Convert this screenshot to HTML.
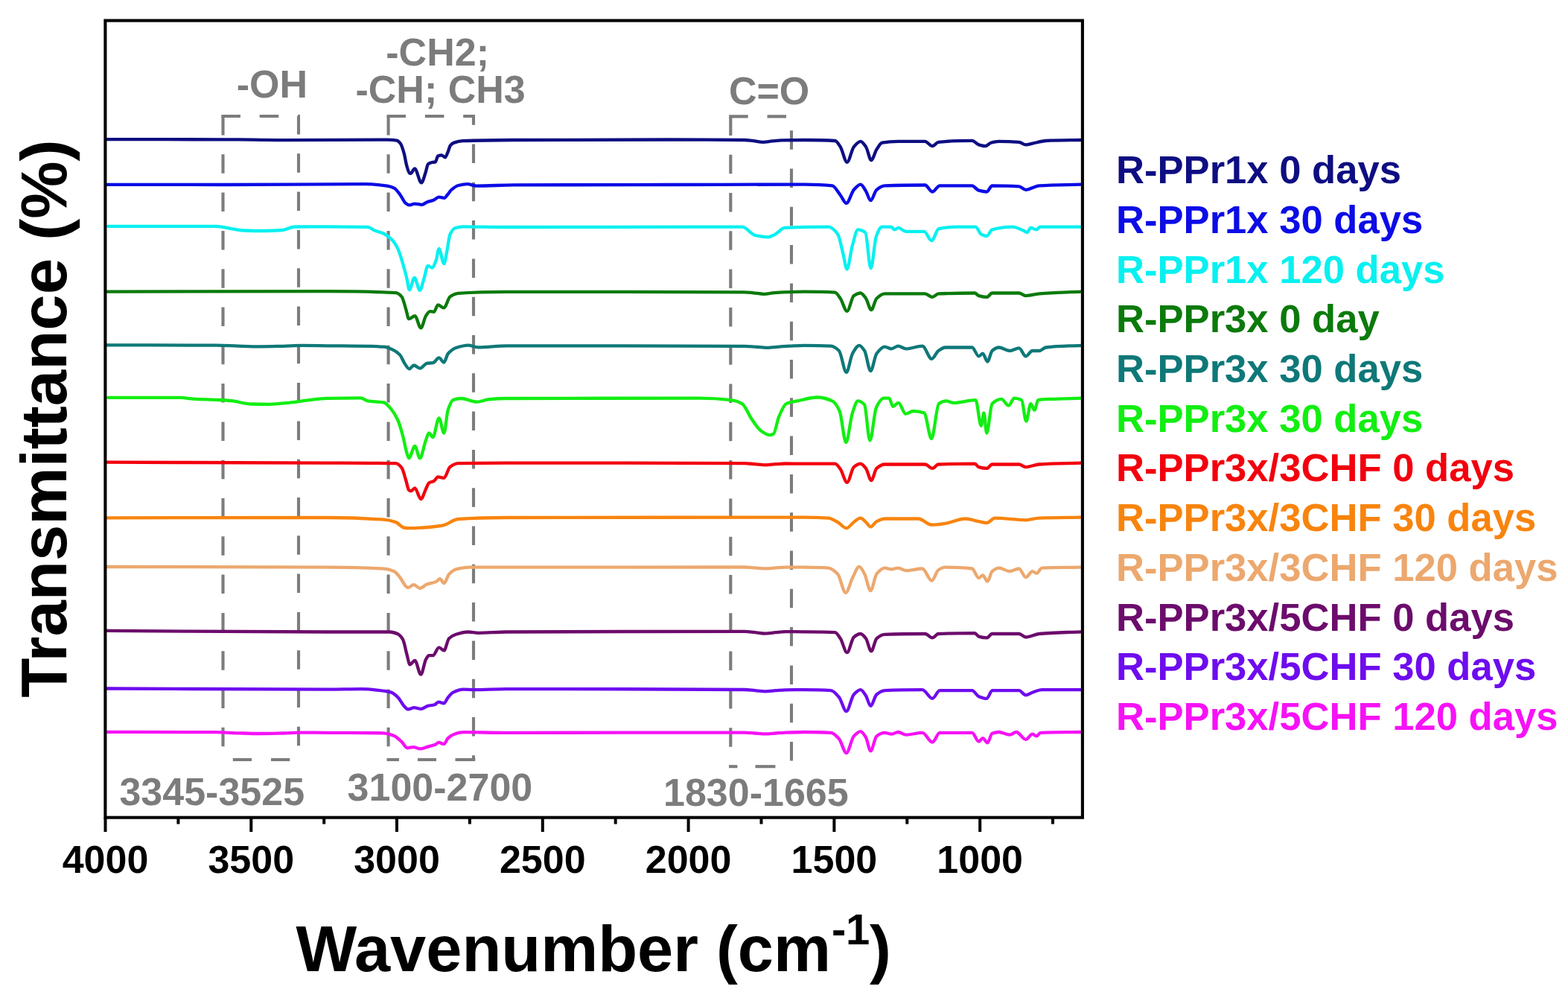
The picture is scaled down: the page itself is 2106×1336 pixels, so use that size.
<!DOCTYPE html><html><head><meta charset="utf-8"><title>FTIR spectra</title><style>
html,body{margin:0;padding:0;background:#fff;width:2106px;height:1336px;overflow:hidden}
svg{display:block}text{font-family:"Liberation Sans",Arial,sans-serif;font-weight:bold}
</style></head><body>
<svg width="2106" height="1336" viewBox="0 0 2106 1336">
<rect x="0" y="0" width="2106" height="1336" fill="#fff"/>
<path d="M297.4,156.0 H401.0 V1020.0" fill="none" stroke="#7c7c7c" stroke-width="4.1" stroke-dasharray="25.5 25.8"/><path d="M299.5,156.0 V1020.0" fill="none" stroke="#7c7c7c" stroke-width="4.1" stroke-dasharray="25.5 25.8"/><path d="M312.8,1020.0 H338.0" fill="none" stroke="#7c7c7c" stroke-width="4.1"/><path d="M364.0,1020.0 H389.3" fill="none" stroke="#7c7c7c" stroke-width="4.1"/>
<path d="M519.6,156.0 H636.0 V1020.0" fill="none" stroke="#7c7c7c" stroke-width="4.1" stroke-dasharray="25.5 25.8"/><path d="M521.6,156.0 V1020.0" fill="none" stroke="#7c7c7c" stroke-width="4.1" stroke-dasharray="25.5 25.8"/><path d="M519.5,1020.0 H536.0" fill="none" stroke="#7c7c7c" stroke-width="4.1"/><path d="M561.0,1020.0 H586.0" fill="none" stroke="#7c7c7c" stroke-width="4.1"/><path d="M611.5,1020.0 H638.3" fill="none" stroke="#7c7c7c" stroke-width="4.1"/>
<path d="M979.2,156.4 H1063.0 V1029.2" fill="none" stroke="#7c7c7c" stroke-width="4.1" stroke-dasharray="25.5 25.8"/><path d="M981.3,156.4 V1029.2" fill="none" stroke="#7c7c7c" stroke-width="4.1" stroke-dasharray="25.5 25.8"/><path d="M979.0,1029.2 H990.4" fill="none" stroke="#7c7c7c" stroke-width="4.1"/><path d="M1014.5,1029.2 H1041.4" fill="none" stroke="#7c7c7c" stroke-width="4.1"/>
<path d="M143.0,187.1 C195.3,187.2 247.7,187.2 300.0,187.3 C313.3,187.3 326.7,187.5 340.0,187.6 C353.3,187.7 366.7,188.1 380.0,188.1 C426.7,188.1 473.3,187.6 520.0,187.6 C524.3,187.6 528.7,187.9 533.0,188.6 C534.6,188.9 536.3,190.7 537.9,192.8 C539.5,194.9 541.1,200.3 542.7,205.9 C543.9,210.1 545.1,218.6 546.3,222.7 C547.5,226.8 548.7,231.6 549.9,232.3 C550.4,232.6 551.0,232.9 551.5,232.9 C553.3,232.9 555.2,226.3 557.0,226.3 C560.0,226.3 563.0,245.4 566.0,245.4 C567.8,245.4 569.6,237.4 571.4,232.3 C572.6,228.9 573.8,221.2 575.0,220.3 C577.0,218.8 579.0,218.2 581.0,217.9 C582.2,217.7 583.4,217.8 584.6,217.6 C585.8,217.4 587.0,210.1 588.2,209.5 C589.8,208.8 591.4,208.3 593.0,208.3 C594.6,208.3 596.2,211.3 597.8,211.3 C599.0,211.3 600.2,207.3 601.4,204.7 C602.6,202.1 603.8,196.5 605.0,195.1 C606.6,193.2 608.2,192.1 609.8,191.6 C613.8,190.2 617.7,189.4 621.7,189.2 C644.5,188.3 667.2,188.1 690.0,188.0 C760.0,187.7 830.0,187.5 900.0,187.5 C933.3,187.5 966.7,187.6 1000.0,188.0 C1004.0,188.0 1008.0,188.8 1012.0,189.2 C1016.3,189.7 1020.7,190.8 1025.0,190.8 C1029.0,190.8 1033.0,189.8 1037.0,189.4 C1041.3,189.0 1045.7,188.4 1050.0,188.3 C1060.0,188.1 1070.0,188.0 1080.0,188.0 C1093.8,188.0 1107.7,188.2 1121.5,189.0 C1123.9,189.1 1126.3,193.5 1128.7,197.1 C1131.7,201.6 1134.7,217.8 1137.7,217.8 C1140.7,217.8 1143.8,200.7 1146.8,197.1 C1149.8,193.5 1152.8,189.8 1155.8,189.8 C1158.2,189.8 1160.6,193.6 1163.0,197.1 C1165.4,200.6 1167.8,215.1 1170.2,215.1 C1172.6,215.1 1175.0,204.4 1177.4,200.7 C1179.8,197.0 1182.3,192.2 1184.7,191.7 C1191.9,190.3 1199.1,189.8 1206.3,189.8 C1218.3,189.8 1230.4,189.8 1242.4,189.8 C1245.7,189.8 1249.0,196.2 1252.3,196.2 C1255.0,196.2 1257.7,191.1 1260.4,190.8 C1275.5,189.3 1290.5,188.9 1305.6,188.9 C1308.6,188.9 1311.6,193.5 1314.6,194.4 C1317.6,195.3 1320.6,196.2 1323.6,196.2 C1326.0,196.2 1328.4,192.4 1330.8,191.7 C1334.4,190.7 1338.0,189.8 1341.6,189.8 C1350.6,189.8 1359.7,190.1 1368.7,190.8 C1371.7,191.0 1374.7,194.4 1377.7,194.4 C1380.7,194.4 1383.7,193.2 1386.7,192.6 C1392.7,191.4 1398.8,189.3 1404.8,189.0 C1420.5,188.3 1436.3,188.3 1452.0,188.0" fill="none" stroke="#0e0e82" stroke-width="4.3" stroke-linejoin="round" stroke-linecap="round"/>
<path d="M143.0,247.8 C195.3,247.9 247.7,248.0 300.0,248.0 C363.3,248.0 426.7,247.2 490.0,247.2 C500.0,247.2 510.0,248.2 520.0,249.6 C523.2,250.1 526.3,251.0 529.5,252.6 C532.3,254.0 535.1,258.5 537.9,262.2 C540.3,265.3 542.6,271.3 545.0,273.0 C546.6,274.2 548.3,275.4 549.9,275.4 C552.3,275.4 554.6,273.6 557.0,273.6 C560.2,273.6 563.4,274.8 566.6,274.8 C569.0,274.8 571.4,272.1 573.8,271.2 C576.6,270.2 579.4,269.9 582.2,268.8 C584.6,267.9 587.0,264.6 589.4,264.6 C591.8,264.6 594.2,265.8 596.6,265.8 C598.2,265.8 599.8,262.8 601.4,261.0 C603.0,259.2 604.6,256.4 606.2,255.0 C609.4,252.2 612.5,249.8 615.7,249.0 C619.7,248.0 623.7,247.2 627.7,247.2 C631.7,247.2 635.7,249.6 639.7,249.6 C656.5,249.6 673.2,248.5 690.0,248.4 C760.0,248.1 830.0,248.1 900.0,248.0 C960.0,247.9 1020.0,247.6 1080.0,247.6 C1092.6,247.6 1105.3,248.0 1117.9,249.4 C1121.5,249.8 1125.1,257.5 1128.7,262.0 C1131.4,265.4 1134.1,272.9 1136.8,272.9 C1140.1,272.9 1143.5,258.5 1146.8,254.8 C1149.8,251.5 1152.8,247.6 1155.8,247.6 C1158.2,247.6 1160.6,252.9 1163.0,256.6 C1165.1,259.8 1167.2,269.2 1169.3,269.2 C1172.0,269.2 1174.7,257.0 1177.4,254.8 C1181.0,251.9 1184.7,249.5 1188.3,249.4 C1206.3,248.7 1224.4,248.5 1242.4,248.5 C1245.7,248.5 1249.0,257.5 1252.3,257.5 C1255.6,257.5 1258.9,249.4 1262.2,249.4 C1276.7,249.4 1291.1,249.4 1305.6,249.4 C1308.6,249.4 1311.6,254.9 1314.6,255.7 C1318.2,256.7 1321.8,257.5 1325.4,257.5 C1327.8,257.5 1330.2,249.4 1332.6,249.4 C1344.6,249.4 1356.7,249.6 1368.7,250.3 C1371.7,250.5 1374.7,254.8 1377.7,254.8 C1383.7,254.8 1389.8,249.8 1395.8,249.4 C1414.5,248.1 1433.3,248.2 1452.0,247.6" fill="none" stroke="#0c0ce6" stroke-width="4.3" stroke-linejoin="round" stroke-linecap="round"/>
<path d="M145.0,303.8 C193.5,303.8 241.9,303.8 290.4,303.9 C296.9,303.9 303.5,306.0 310.0,307.0 C316.0,307.9 322.0,309.3 328.0,309.5 C336.6,309.8 345.1,310.0 353.7,310.0 C362.1,310.0 370.6,309.6 379.0,309.0 C384.7,308.6 390.3,304.6 396.0,304.5 C410.7,304.3 425.3,304.3 440.0,304.3 C458.0,304.3 475.9,304.4 493.9,304.9 C497.0,305.0 500.2,308.3 503.3,309.6 C507.4,311.2 511.4,311.8 515.5,313.7 C519.1,315.4 522.7,318.1 526.3,321.8 C529.0,324.5 531.6,328.5 534.3,333.9 C536.6,338.5 538.8,346.6 541.1,354.1 C542.9,360.1 544.7,366.9 546.5,374.3 C547.6,378.8 548.7,389.2 549.8,389.2 C552.1,389.2 554.3,373.0 556.6,373.0 C559.1,373.0 561.5,389.8 564.0,389.8 C565.8,389.8 567.6,379.8 569.4,374.3 C571.2,368.8 573.0,356.8 574.8,356.8 C576.6,356.8 578.4,359.5 580.2,359.5 C582.0,359.5 583.8,354.5 585.6,350.0 C586.9,346.7 588.3,333.9 589.6,333.9 C591.8,333.9 594.1,354.1 596.3,354.1 C597.7,354.1 599.0,343.1 600.4,336.6 C601.7,330.2 603.1,317.9 604.4,315.0 C606.7,310.0 608.9,307.1 611.2,306.3 C614.8,305.1 618.4,304.3 622.0,304.3 C641.3,304.3 660.7,305.0 680.0,305.0 C766.7,305.0 853.3,304.7 940.0,304.7 C958.9,304.7 977.9,304.7 996.8,304.7 C1002.6,304.7 1008.3,314.4 1014.1,315.8 C1019.9,317.2 1025.6,318.3 1031.4,318.3 C1034.7,318.3 1037.9,316.2 1041.2,314.6 C1045.3,312.6 1049.5,306.1 1053.6,305.9 C1073.3,304.9 1093.1,304.7 1112.8,304.7 C1116.9,304.7 1121.1,308.9 1125.2,314.6 C1127.7,318.0 1130.1,332.2 1132.6,341.7 C1134.2,348.0 1135.9,361.5 1137.5,361.5 C1140.0,361.5 1142.4,337.9 1144.9,329.4 C1147.4,320.9 1149.8,308.4 1152.3,308.4 C1155.6,308.4 1158.9,309.7 1162.2,312.1 C1164.7,313.9 1167.1,360.2 1169.6,360.2 C1172.1,360.2 1174.5,323.4 1177.0,317.0 C1179.5,310.6 1181.9,304.7 1184.4,304.7 C1188.5,304.7 1192.7,304.7 1196.8,304.7 C1198.4,304.7 1200.1,308.4 1201.7,308.4 C1203.4,308.4 1205.0,305.9 1206.7,305.9 C1210.0,305.9 1213.2,310.9 1216.5,310.9 C1224.7,310.9 1233.0,310.9 1241.2,310.9 C1244.5,310.9 1247.8,323.2 1251.1,323.2 C1254.4,323.2 1257.7,307.9 1261.0,307.2 C1269.2,305.4 1277.5,304.7 1285.7,304.7 C1293.9,304.7 1302.2,304.7 1310.4,304.7 C1312.9,304.7 1315.3,313.3 1317.8,314.6 C1320.3,315.9 1322.7,317.0 1325.2,317.0 C1327.7,317.0 1330.1,309.1 1332.6,308.4 C1341.7,305.8 1350.7,304.7 1359.8,304.7 C1364.7,304.7 1369.7,307.5 1374.6,309.6 C1376.2,310.3 1377.9,312.1 1379.5,312.1 C1381.1,312.1 1382.8,305.9 1384.4,305.9 C1386.9,305.9 1389.4,308.4 1391.9,308.4 C1393.5,308.4 1395.2,304.7 1396.8,304.7 C1415.2,304.7 1433.6,304.7 1452.0,304.7" fill="none" stroke="#08f0f0" stroke-width="4.3" stroke-linejoin="round" stroke-linecap="round"/>
<path d="M143.0,391.6 C242.0,391.5 341.0,391.2 440.0,391.2 C470.5,391.2 501.1,391.5 531.6,393.2 C534.3,393.4 537.0,395.5 539.7,398.6 C541.5,400.7 543.3,409.2 545.1,414.8 C546.5,419.1 547.8,428.2 549.2,428.2 C551.9,428.2 554.5,424.2 557.2,424.2 C559.9,424.2 562.6,440.4 565.3,440.4 C567.5,440.4 569.8,427.6 572.0,424.2 C573.8,421.4 575.7,418.1 577.5,418.1 C579.3,418.1 581.1,418.8 582.9,418.8 C584.7,418.8 586.4,409.4 588.2,409.4 C590.9,409.4 593.6,413.4 596.3,413.4 C599.0,413.4 601.7,400.6 604.4,398.6 C608.0,396.0 611.6,394.2 615.2,393.9 C636.8,392.3 658.4,391.9 680.0,391.9 C786.7,391.9 893.3,391.9 1000.0,392.3 C1004.0,392.3 1008.0,392.9 1012.0,393.3 C1016.7,393.7 1021.3,394.8 1026.0,394.8 C1030.7,394.8 1035.3,393.6 1040.0,393.2 C1044.0,392.8 1048.0,392.4 1052.0,392.3 C1061.3,392.0 1070.7,391.7 1080.0,391.7 C1093.8,391.7 1107.7,391.8 1121.5,392.6 C1123.9,392.7 1126.3,397.3 1128.7,400.7 C1131.7,404.9 1134.7,417.8 1137.7,417.8 C1140.7,417.8 1143.8,399.2 1146.8,397.1 C1149.8,395.1 1152.8,393.5 1155.8,393.5 C1158.2,393.5 1160.6,397.4 1163.0,400.7 C1165.4,404.0 1167.8,416.0 1170.2,416.0 C1172.6,416.0 1175.0,403.0 1177.4,400.7 C1181.0,397.3 1184.7,394.4 1188.3,394.4 C1206.3,394.4 1224.4,394.4 1242.4,394.4 C1245.7,394.4 1249.0,398.9 1252.3,398.9 C1255.0,398.9 1257.7,394.5 1260.4,394.4 C1276.7,393.7 1292.9,393.5 1309.2,393.5 C1311.0,393.5 1312.8,396.6 1314.6,397.1 C1318.2,398.1 1321.8,398.9 1325.4,398.9 C1327.8,398.9 1330.2,393.5 1332.6,393.5 C1344.6,393.5 1356.7,393.5 1368.7,393.5 C1371.7,393.5 1374.7,397.1 1377.7,397.1 C1383.7,397.1 1389.8,394.9 1395.8,394.4 C1414.5,392.9 1433.3,392.6 1452.0,391.7" fill="none" stroke="#0b7a0b" stroke-width="4.3" stroke-linejoin="round" stroke-linecap="round"/>
<path d="M143.0,463.4 C192.0,463.5 241.0,463.4 290.0,463.6 C300.0,463.6 310.0,464.3 320.0,464.6 C330.0,464.9 340.0,465.3 350.0,465.3 C360.0,465.3 370.0,465.0 380.0,464.8 C388.3,464.6 396.7,463.9 405.0,463.9 C416.7,463.9 428.3,464.1 440.0,464.3 C465.2,464.6 490.3,464.5 515.5,465.6 C519.5,465.8 523.6,467.7 527.6,469.6 C530.7,471.0 533.9,473.1 537.0,476.4 C539.3,478.8 541.5,485.4 543.8,488.5 C545.8,491.3 547.8,495.3 549.8,495.3 C551.8,495.3 553.9,490.5 555.9,490.5 C558.6,490.5 561.3,494.6 564.0,494.6 C567.1,494.6 570.3,488.2 573.4,487.8 C576.1,487.4 578.8,487.6 581.5,487.2 C584.2,486.8 586.9,480.4 589.6,480.4 C591.8,480.4 594.1,486.5 596.3,486.5 C598.1,486.5 599.9,477.1 601.7,475.0 C605.3,470.8 608.9,468.2 612.5,467.0 C617.9,465.2 623.3,463.6 628.7,463.6 C633.2,463.6 637.7,466.3 642.2,466.3 C654.8,466.3 667.4,464.3 680.0,464.3 C786.7,464.3 893.3,464.3 1000.0,464.8 C1004.7,464.8 1009.3,465.3 1014.0,465.6 C1019.3,465.9 1024.7,466.8 1030.0,466.8 C1035.3,466.8 1040.7,466.0 1046.0,465.6 C1050.7,465.3 1055.3,464.8 1060.0,464.6 C1066.7,464.3 1073.3,463.8 1080.0,463.8 C1092.0,463.8 1104.1,464.0 1116.1,464.7 C1119.7,464.9 1123.3,467.5 1126.9,471.0 C1130.2,474.2 1133.5,499.9 1136.8,499.9 C1139.5,499.9 1142.3,479.5 1145.0,474.7 C1148.0,469.5 1151.0,463.8 1154.0,463.8 C1156.4,463.8 1158.8,467.3 1161.2,471.0 C1163.9,475.1 1166.6,498.1 1169.3,498.1 C1172.0,498.1 1174.7,478.3 1177.4,474.7 C1181.0,469.9 1184.7,465.6 1188.3,465.6 C1191.3,465.6 1194.3,468.3 1197.3,468.3 C1200.3,468.3 1203.3,464.7 1206.3,464.7 C1209.9,464.7 1213.5,468.3 1217.1,468.3 C1224.3,468.3 1231.6,464.7 1238.8,464.7 C1243.0,464.7 1247.2,481.9 1251.4,481.9 C1254.4,481.9 1257.4,473.1 1260.4,471.0 C1263.4,468.9 1266.5,466.5 1269.5,466.5 C1281.5,466.5 1293.6,466.5 1305.6,466.5 C1308.6,466.5 1311.6,478.3 1314.6,478.3 C1316.4,478.3 1318.2,474.7 1320.0,474.7 C1322.1,474.7 1324.2,485.5 1326.3,485.5 C1328.4,485.5 1330.5,472.8 1332.6,471.0 C1335.6,468.4 1338.6,466.5 1341.6,466.5 C1346.4,466.5 1351.3,471.0 1356.1,471.0 C1360.3,471.0 1364.5,467.4 1368.7,467.4 C1371.7,467.4 1374.7,478.3 1377.7,478.3 C1380.7,478.3 1383.7,471.0 1386.7,471.0 C1389.7,471.0 1392.8,471.0 1395.8,471.0 C1398.8,471.0 1401.8,466.9 1404.8,466.5 C1420.5,464.5 1436.3,464.7 1452.0,463.8" fill="none" stroke="#0f7878" stroke-width="4.3" stroke-linejoin="round" stroke-linecap="round"/>
<path d="M145.0,533.8 C177.5,533.8 210.1,533.8 242.6,533.9 C248.3,533.9 254.0,535.3 259.7,535.6 C271.1,536.3 282.4,536.4 293.8,537.0 C299.5,537.3 305.3,537.6 311.0,538.2 C319.5,539.0 328.1,542.3 336.6,542.5 C345.1,542.7 353.7,542.8 362.2,542.8 C370.8,542.8 379.3,541.6 387.9,540.8 C396.4,540.0 405.0,538.4 413.5,537.4 C422.0,536.4 430.6,535.0 439.1,534.8 C454.2,534.5 469.4,534.3 484.5,534.3 C487.6,534.3 490.8,537.9 493.9,538.4 C501.1,539.6 508.3,539.1 515.5,540.4 C519.1,541.1 522.7,546.1 526.3,550.5 C529.0,553.8 531.6,558.1 534.3,564.0 C536.6,569.0 538.8,577.2 541.1,585.5 C542.9,592.1 544.7,603.0 546.5,608.5 C547.4,611.2 548.3,615.2 549.2,615.2 C551.9,615.2 554.5,599.0 557.2,599.0 C559.5,599.0 561.7,615.2 564.0,615.2 C566.7,615.2 569.3,597.9 572.0,591.0 C573.4,587.5 574.7,581.5 576.1,581.5 C577.9,581.5 579.7,586.9 581.5,586.9 C584.2,586.9 586.9,561.3 589.6,561.3 C591.8,561.3 594.1,581.5 596.3,581.5 C598.1,581.5 599.9,555.9 601.7,550.5 C604.0,543.7 606.2,537.8 608.5,537.0 C612.1,535.7 615.6,535.0 619.2,535.0 C626.4,535.0 633.6,539.7 640.8,539.7 C645.7,539.7 650.7,536.9 655.6,536.4 C663.7,535.6 671.9,535.0 680.0,535.0 C766.7,534.7 853.3,534.7 940.0,534.7 C954.0,534.7 968.0,535.6 982.0,537.2 C986.9,537.8 991.9,539.3 996.8,542.1 C1000.9,544.4 1005.0,556.0 1009.1,561.9 C1013.2,567.8 1017.4,574.9 1021.5,577.9 C1025.6,580.9 1029.7,584.1 1033.8,584.1 C1035.5,584.1 1037.1,583.6 1038.8,582.8 C1041.3,581.7 1043.7,565.1 1046.2,559.4 C1049.5,551.9 1052.7,543.6 1056.0,542.1 C1061.0,539.8 1065.9,539.5 1070.9,538.4 C1079.9,536.5 1089.0,533.5 1098.0,533.5 C1104.6,533.5 1111.2,535.4 1117.8,538.4 C1121.1,539.9 1124.4,544.8 1127.7,552.0 C1130.6,558.2 1133.4,594.0 1136.3,594.0 C1139.2,594.0 1142.0,562.8 1144.9,554.4 C1147.4,547.2 1149.8,538.4 1152.3,538.4 C1155.2,538.4 1158.1,540.2 1161.0,543.3 C1163.5,545.9 1165.9,591.5 1168.4,591.5 C1171.3,591.5 1174.1,552.8 1177.0,547.0 C1180.3,540.3 1183.6,534.7 1186.9,534.7 C1189.4,534.7 1191.8,534.7 1194.3,534.7 C1196.0,534.7 1197.6,545.8 1199.3,545.8 C1201.8,545.8 1204.2,540.9 1206.7,540.9 C1210.0,540.9 1213.2,555.7 1216.5,555.7 C1219.8,555.7 1223.1,552.0 1226.4,552.0 C1231.3,552.0 1236.3,552.8 1241.2,554.4 C1244.5,555.5 1247.8,589.0 1251.1,589.0 C1254.4,589.0 1257.7,544.4 1261.0,542.1 C1264.3,539.8 1267.6,538.4 1270.9,538.4 C1274.2,538.4 1277.4,540.9 1280.7,540.9 C1290.6,540.9 1300.5,537.2 1310.4,537.2 C1312.9,537.2 1315.3,571.7 1317.8,571.7 C1319.0,571.7 1320.3,554.4 1321.5,554.4 C1322.7,554.4 1324.0,581.6 1325.2,581.6 C1327.7,581.6 1330.1,544.5 1332.6,542.1 C1336.7,538.0 1340.9,535.9 1345.0,535.9 C1348.3,535.9 1351.5,544.6 1354.8,544.6 C1357.3,544.6 1359.7,534.7 1362.2,534.7 C1365.5,534.7 1368.8,535.5 1372.1,537.2 C1374.2,538.3 1376.2,565.6 1378.3,565.6 C1380.3,565.6 1382.4,542.1 1384.4,542.1 C1386.1,542.1 1387.7,550.7 1389.4,550.7 C1391.0,550.7 1392.7,537.5 1394.3,537.2 C1399.2,536.2 1404.2,536.1 1409.1,535.9 C1423.4,535.2 1437.7,535.1 1452.0,534.7" fill="none" stroke="#12ee12" stroke-width="4.3" stroke-linejoin="round" stroke-linecap="round"/>
<path d="M143.0,620.7 C242.0,621.0 341.0,621.2 440.0,621.6 C470.5,621.7 501.1,621.7 531.6,622.2 C534.3,622.2 537.0,624.9 539.7,628.3 C541.5,630.6 543.3,638.8 545.1,644.5 C546.5,648.8 547.8,656.9 549.2,658.0 C550.1,658.7 551.0,659.3 551.9,659.3 C553.7,659.3 555.4,655.3 557.2,655.3 C559.9,655.3 562.6,670.1 565.3,670.1 C567.5,670.1 569.8,661.1 572.0,656.6 C573.4,653.9 574.7,649.5 576.1,648.5 C578.4,646.9 580.6,647.1 582.9,645.8 C584.7,644.8 586.4,640.4 588.2,640.4 C590.9,640.4 593.6,641.8 596.3,641.8 C599.0,641.8 601.7,629.0 604.4,627.0 C608.0,624.3 611.6,622.3 615.2,622.2 C636.8,621.7 658.4,621.6 680.0,621.6 C786.7,621.6 893.3,621.7 1000.0,622.2 C1004.7,622.2 1009.3,622.9 1014.0,623.2 C1018.7,623.5 1023.3,624.3 1028.0,624.3 C1032.7,624.3 1037.3,623.5 1042.0,623.2 C1046.3,622.9 1050.7,622.5 1055.0,622.5 C1063.3,622.5 1071.7,622.6 1080.0,622.6 C1093.8,622.6 1107.7,622.6 1121.5,622.6 C1123.9,622.6 1126.3,626.6 1128.7,629.8 C1131.7,633.8 1134.7,647.8 1137.7,647.8 C1140.7,647.8 1143.8,629.6 1146.8,627.1 C1149.8,624.6 1152.8,622.6 1155.8,622.6 C1158.2,622.6 1160.6,625.9 1163.0,628.9 C1165.4,631.9 1167.8,645.1 1170.2,645.1 C1172.6,645.1 1175.0,630.9 1177.4,628.9 C1181.0,625.8 1184.7,623.5 1188.3,623.5 C1206.3,623.5 1224.4,623.5 1242.4,623.5 C1245.7,623.5 1249.0,628.9 1252.3,628.9 C1255.0,628.9 1257.7,623.6 1260.4,623.5 C1276.7,622.7 1292.9,622.6 1309.2,622.6 C1311.0,622.6 1312.8,626.6 1314.6,627.1 C1318.2,628.2 1321.8,628.9 1325.4,628.9 C1327.8,628.9 1330.2,623.5 1332.6,623.5 C1344.6,623.5 1356.7,623.5 1368.7,623.5 C1371.7,623.5 1374.7,627.1 1377.7,627.1 C1383.7,627.1 1389.8,623.9 1395.8,623.5 C1414.5,622.3 1433.3,622.3 1452.0,621.7" fill="none" stroke="#f2000e" stroke-width="4.3" stroke-linejoin="round" stroke-linecap="round"/>
<path d="M143.0,695.3 C242.0,695.2 341.0,695.0 440.0,695.0 C465.2,695.0 490.3,695.9 515.5,697.7 C520.9,698.1 526.2,699.3 531.6,701.1 C535.2,702.3 538.8,708.0 542.4,708.5 C545.1,708.9 547.8,709.2 550.5,709.2 C556.3,709.2 562.2,708.8 568.0,708.5 C574.7,708.1 581.5,707.4 588.2,706.5 C590.9,706.1 593.6,705.7 596.3,705.1 C602.6,703.6 608.9,697.4 615.2,697.0 C636.8,695.5 658.4,695.0 680.0,695.0 C813.3,694.7 946.7,694.7 1080.0,694.7 C1090.8,694.7 1101.7,695.0 1112.5,695.6 C1116.7,695.9 1120.9,698.8 1125.1,701.0 C1129.0,703.1 1132.9,709.2 1136.8,709.2 C1140.1,709.2 1143.5,703.3 1146.8,701.0 C1149.8,698.9 1152.8,695.6 1155.8,695.6 C1158.2,695.6 1160.6,698.9 1163.0,701.0 C1165.1,702.8 1167.2,707.4 1169.3,707.4 C1172.0,707.4 1174.7,701.4 1177.4,700.1 C1181.0,698.3 1184.7,696.5 1188.3,696.5 C1203.3,696.5 1218.4,696.5 1233.4,696.5 C1239.4,696.5 1245.4,704.7 1251.4,704.7 C1257.4,704.7 1263.5,703.7 1269.5,702.9 C1278.5,701.7 1287.5,696.5 1296.5,696.5 C1302.5,696.5 1308.6,699.0 1314.6,700.1 C1318.2,700.8 1321.8,702.0 1325.4,702.0 C1329.0,702.0 1332.6,695.6 1336.2,695.6 C1350.0,695.6 1363.9,698.3 1377.7,698.3 C1383.7,698.3 1389.8,695.8 1395.8,695.6 C1414.5,695.0 1433.3,695.0 1452.0,694.7" fill="none" stroke="#f8840e" stroke-width="4.3" stroke-linejoin="round" stroke-linecap="round"/>
<path d="M143.0,761.0 C242.0,761.2 341.0,761.2 440.0,761.6 C465.2,761.7 490.3,762.1 515.5,763.6 C520.0,763.9 524.5,765.1 529.0,767.0 C531.7,768.1 534.3,771.8 537.0,775.0 C539.7,778.2 542.4,784.7 545.1,787.2 C546.0,788.0 546.9,789.2 547.8,789.2 C550.5,789.2 553.2,785.1 555.9,785.1 C558.6,785.1 561.3,789.9 564.0,789.9 C567.1,789.9 570.3,785.7 573.4,784.5 C577.5,783.0 581.5,782.9 585.6,781.1 C587.4,780.3 589.1,777.1 590.9,777.1 C592.7,777.1 594.5,783.1 596.3,783.1 C598.6,783.1 600.8,773.4 603.1,771.0 C606.2,767.7 609.4,765.1 612.5,764.3 C618.8,762.7 625.1,761.6 631.4,761.6 C647.6,761.6 663.8,761.6 680.0,761.6 C786.7,761.6 893.3,761.5 1000.0,761.5 C1004.7,761.5 1009.3,762.1 1014.0,762.4 C1018.7,762.7 1023.3,763.3 1028.0,763.3 C1032.7,763.3 1037.3,762.7 1042.0,762.4 C1046.3,762.1 1050.7,761.6 1055.0,761.6 C1063.3,761.6 1071.7,761.6 1080.0,761.7 C1090.8,761.8 1101.7,761.9 1112.5,762.6 C1116.7,762.9 1120.9,766.4 1125.1,770.7 C1128.7,774.4 1132.3,795.9 1135.9,795.9 C1138.9,795.9 1142.0,781.9 1145.0,776.1 C1148.0,770.4 1151.0,760.8 1154.0,760.8 C1156.4,760.8 1158.8,766.3 1161.2,770.7 C1163.9,775.6 1166.6,793.2 1169.3,793.2 C1172.0,793.2 1174.7,774.0 1177.4,770.7 C1181.0,766.3 1184.7,762.6 1188.3,762.6 C1191.3,762.6 1194.3,764.4 1197.3,764.4 C1200.3,764.4 1203.3,762.6 1206.3,762.6 C1209.9,762.6 1213.5,766.2 1217.1,766.2 C1224.3,766.2 1231.6,763.5 1238.8,763.5 C1243.0,763.5 1247.2,779.7 1251.4,779.7 C1254.4,779.7 1257.4,767.2 1260.4,765.3 C1263.4,763.4 1266.5,761.7 1269.5,761.7 C1281.5,761.7 1293.6,762.1 1305.6,763.5 C1308.6,763.9 1311.6,776.1 1314.6,776.1 C1316.4,776.1 1318.2,772.5 1320.0,772.5 C1322.1,772.5 1324.2,780.6 1326.3,780.6 C1328.4,780.6 1330.5,768.9 1332.6,767.1 C1335.6,764.6 1338.6,762.6 1341.6,762.6 C1346.4,762.6 1351.3,767.1 1356.1,767.1 C1360.3,767.1 1364.5,763.5 1368.7,763.5 C1371.7,763.5 1374.7,775.2 1377.7,775.2 C1380.7,775.2 1383.7,767.1 1386.7,767.1 C1388.5,767.1 1390.4,769.8 1392.2,769.8 C1394.6,769.8 1397.0,762.7 1399.4,762.6 C1416.9,761.8 1434.5,762.0 1452.0,761.7" fill="none" stroke="#eca86e" stroke-width="4.3" stroke-linejoin="round" stroke-linecap="round"/>
<path d="M143.0,846.9 C242.0,847.4 341.0,848.5 440.0,848.5 C467.9,848.5 495.7,848.5 523.6,848.5 C527.2,848.5 530.7,849.7 534.3,851.2 C536.6,852.2 538.8,854.7 541.1,858.6 C542.9,861.7 544.7,872.4 546.5,878.8 C547.8,883.5 549.2,892.3 550.5,892.3 C552.7,892.3 555.0,886.9 557.2,886.9 C559.9,886.9 562.6,905.7 565.3,905.7 C567.5,905.7 569.8,889.5 572.0,885.5 C573.4,883.1 574.7,880.1 576.1,880.1 C577.9,880.1 579.7,880.1 581.5,880.1 C584.2,880.1 586.9,869.4 589.6,869.4 C591.8,869.4 594.1,873.4 596.3,873.4 C598.6,873.4 600.8,859.4 603.1,857.2 C606.2,854.2 609.4,852.8 612.5,851.8 C617.9,850.1 623.3,848.5 628.7,848.5 C633.2,848.5 637.7,849.8 642.2,849.8 C654.8,849.8 667.4,848.6 680.0,848.5 C786.7,848.0 893.3,847.9 1000.0,847.9 C1004.7,847.9 1009.3,848.7 1014.0,849.1 C1018.7,849.5 1023.3,850.6 1028.0,850.6 C1032.7,850.6 1037.3,849.6 1042.0,849.2 C1046.3,848.8 1050.7,848.2 1055.0,848.2 C1063.3,848.2 1071.7,848.2 1080.0,848.3 C1093.8,848.4 1107.7,848.4 1121.5,849.2 C1123.9,849.3 1126.3,853.8 1128.7,857.3 C1131.7,861.6 1134.7,876.2 1137.7,876.2 C1140.7,876.2 1143.8,858.0 1146.8,855.5 C1149.8,853.0 1152.8,851.0 1155.8,851.0 C1158.2,851.0 1160.6,854.2 1163.0,857.3 C1165.4,860.4 1167.8,874.4 1170.2,874.4 C1172.6,874.4 1175.0,859.4 1177.4,857.3 C1181.0,854.2 1184.7,852.0 1188.3,851.9 C1206.3,851.2 1224.4,851.0 1242.4,851.0 C1245.7,851.0 1249.0,856.4 1252.3,856.4 C1255.0,856.4 1257.7,851.1 1260.4,851.0 C1276.7,850.2 1292.9,850.1 1309.2,850.1 C1311.0,850.1 1312.8,854.1 1314.6,854.6 C1318.2,855.7 1321.8,856.4 1325.4,856.4 C1327.8,856.4 1330.2,851.0 1332.6,851.0 C1344.6,851.0 1356.7,851.0 1368.7,851.0 C1371.7,851.0 1374.7,855.5 1377.7,855.5 C1383.7,855.5 1389.8,851.5 1395.8,851.0 C1414.5,849.3 1433.3,849.2 1452.0,848.3" fill="none" stroke="#6c0c6c" stroke-width="4.3" stroke-linejoin="round" stroke-linecap="round"/>
<path d="M143.0,924.5 C242.0,924.9 341.0,925.6 440.0,925.6 C455.2,925.6 470.4,925.1 485.6,925.1 C493.2,925.1 500.8,926.0 508.4,926.8 C514.1,927.4 519.8,928.0 525.5,929.6 C528.5,930.5 531.6,933.5 534.6,936.5 C537.3,939.2 539.9,945.2 542.6,947.9 C544.5,949.8 546.4,952.4 548.3,952.4 C550.9,952.4 553.6,950.1 556.2,950.1 C559.3,950.1 562.3,951.9 565.4,951.9 C568.4,951.9 571.5,948.7 574.5,947.9 C577.5,947.1 580.6,947.1 583.6,946.2 C585.5,945.6 587.4,942.7 589.3,942.7 C591.6,942.7 593.8,944.4 596.1,944.4 C598.0,944.4 599.9,938.7 601.8,936.5 C604.1,933.8 606.4,930.7 608.7,929.6 C613.2,927.4 617.8,925.6 622.3,925.6 C627.2,925.6 632.2,926.2 637.1,926.2 C651.4,926.2 665.7,925.1 680.0,925.1 C786.7,925.1 893.3,925.2 1000.0,926.0 C1004.7,926.0 1009.3,926.7 1014.0,927.1 C1018.7,927.5 1023.3,928.4 1028.0,928.4 C1032.7,928.4 1037.3,927.6 1042.0,927.2 C1046.3,926.9 1050.7,926.3 1055.0,926.3 C1063.3,926.2 1071.7,926.2 1080.0,926.2 C1092.0,926.2 1104.1,926.4 1116.1,927.1 C1119.7,927.3 1123.3,931.9 1126.9,936.1 C1130.2,940.0 1133.5,955.0 1136.8,955.0 C1140.1,955.0 1143.5,936.0 1146.8,932.5 C1149.8,929.3 1152.8,926.2 1155.8,926.2 C1158.2,926.2 1160.6,930.7 1163.0,934.3 C1165.1,937.4 1167.2,947.8 1169.3,947.8 C1172.0,947.8 1174.7,934.7 1177.4,932.5 C1181.0,929.6 1184.7,927.3 1188.3,927.1 C1205.1,926.4 1222.0,926.2 1238.8,926.2 C1243.3,926.2 1247.8,937.9 1252.3,937.9 C1255.6,937.9 1258.9,927.1 1262.2,927.1 C1276.7,927.1 1291.1,927.1 1305.6,927.1 C1308.6,927.1 1311.6,934.0 1314.6,935.2 C1318.2,936.6 1321.8,937.9 1325.4,937.9 C1327.8,937.9 1330.2,927.1 1332.6,927.1 C1344.6,927.1 1356.7,927.1 1368.7,927.1 C1371.7,927.1 1374.7,933.4 1377.7,933.4 C1380.7,933.4 1383.7,930.8 1386.7,929.8 C1390.9,928.4 1395.2,926.2 1399.4,926.2 C1416.9,926.2 1434.5,926.2 1452.0,926.2" fill="none" stroke="#6e0cee" stroke-width="4.3" stroke-linejoin="round" stroke-linecap="round"/>
<path d="M143.0,982.8 C192.0,982.9 241.0,982.9 290.0,983.2 C300.0,983.3 310.0,984.0 320.0,984.3 C330.0,984.6 340.0,985.0 350.0,985.0 C360.0,985.0 370.0,984.7 380.0,984.5 C388.3,984.3 396.7,983.6 405.0,983.6 C416.7,983.6 428.3,983.7 440.0,983.8 C464.7,984.0 489.4,983.9 514.1,984.3 C519.0,984.4 524.0,985.9 528.9,987.7 C532.3,989.0 535.7,992.6 539.1,995.7 C541.8,998.1 544.4,1004.3 547.1,1004.3 C549.8,1004.3 552.4,1003.1 555.1,1003.1 C558.1,1003.1 561.2,1005.4 564.2,1005.4 C567.6,1005.4 571.1,1003.6 574.5,1002.6 C577.9,1001.7 581.3,1001.1 584.7,999.7 C586.2,999.1 587.8,996.9 589.3,996.9 C591.6,996.9 593.8,999.1 596.1,999.1 C598.0,999.1 599.9,992.9 601.8,991.2 C604.8,988.5 607.9,986.4 610.9,985.5 C614.7,984.3 618.5,983.2 622.3,983.2 C641.5,983.2 660.8,983.8 680.0,983.8 C786.7,983.8 893.3,983.6 1000.0,983.6 C1004.7,983.6 1009.3,984.2 1014.0,984.5 C1018.7,984.8 1023.3,985.4 1028.0,985.4 C1032.7,985.4 1037.3,984.8 1042.0,984.5 C1046.3,984.2 1050.7,983.9 1055.0,983.7 C1063.3,983.4 1071.7,983.0 1080.0,983.0 C1092.0,983.0 1104.1,983.2 1116.1,983.9 C1119.7,984.1 1123.3,988.1 1126.9,992.0 C1130.2,995.6 1133.5,1011.0 1136.8,1011.0 C1140.1,1011.0 1143.5,991.9 1146.8,988.4 C1149.8,985.2 1152.8,982.1 1155.8,982.1 C1158.2,982.1 1160.6,986.3 1163.0,990.2 C1165.1,993.6 1167.2,1008.3 1169.3,1008.3 C1172.0,1008.3 1174.7,990.4 1177.4,988.4 C1181.0,985.7 1184.7,983.9 1188.3,983.9 C1191.3,983.9 1194.3,985.7 1197.3,985.7 C1200.3,985.7 1203.3,983.0 1206.3,983.0 C1209.9,983.0 1213.5,986.6 1217.1,986.6 C1224.3,986.6 1231.6,983.9 1238.8,983.9 C1243.3,983.9 1247.8,996.5 1252.3,996.5 C1255.6,996.5 1258.9,983.9 1262.2,983.9 C1276.7,983.9 1291.1,983.9 1305.6,983.9 C1308.6,983.9 1311.6,995.6 1314.6,995.6 C1316.4,995.6 1318.2,991.1 1320.0,991.1 C1322.1,991.1 1324.2,997.4 1326.3,997.4 C1328.4,997.4 1330.5,985.6 1332.6,984.8 C1335.6,983.7 1338.6,983.0 1341.6,983.0 C1346.4,983.0 1351.3,986.6 1356.1,986.6 C1359.1,986.6 1362.1,983.0 1365.1,983.0 C1369.3,983.0 1373.5,992.9 1377.7,992.9 C1380.7,992.9 1383.7,985.7 1386.7,985.7 C1388.5,985.7 1390.4,988.4 1392.2,988.4 C1394.0,988.4 1395.8,984.0 1397.6,983.9 C1415.7,983.1 1433.9,983.3 1452.0,983.0" fill="none" stroke="#f612f6" stroke-width="4.3" stroke-linejoin="round" stroke-linecap="round"/>
<rect x="141.4" y="27.6" width="1312.5" height="1070.1" fill="none" stroke="#000" stroke-width="4.1"/>
<path d="M141.5,1097.7 V1117.0 M239.4,1097.7 V1106.5 M337.3,1097.7 V1117.0 M435.2,1097.7 V1106.5 M533.0,1097.7 V1117.0 M630.9,1097.7 V1106.5 M728.8,1097.7 V1117.0 M826.7,1097.7 V1106.5 M924.6,1097.7 V1117.0 M1022.5,1097.7 V1106.5 M1120.4,1097.7 V1117.0 M1218.3,1097.7 V1106.5 M1316.2,1097.7 V1117.0 M1414.0,1097.7 V1106.5 " stroke="#000" stroke-width="4" fill="none"/>
<text x="141.5" y="1172" font-size="52" text-anchor="middle" fill="#000">4000</text>
<text x="337.3" y="1172" font-size="52" text-anchor="middle" fill="#000">3500</text>
<text x="533.0" y="1172" font-size="52" text-anchor="middle" fill="#000">3000</text>
<text x="728.8" y="1172" font-size="52" text-anchor="middle" fill="#000">2500</text>
<text x="924.6" y="1172" font-size="52" text-anchor="middle" fill="#000">2000</text>
<text x="1120.4" y="1172" font-size="52" text-anchor="middle" fill="#000">1500</text>
<text x="1316.2" y="1172" font-size="52" text-anchor="middle" fill="#000">1000</text>
<text x="397.4" y="1303.5" font-size="86.6" fill="#000">Wavenumber (cm</text>
<text x="1117" y="1268" font-size="58" fill="#000">-</text>
<text x="1136" y="1268" font-size="58" fill="#000">1</text>
<text x="1168" y="1303.5" font-size="86.6" fill="#000">)</text>
<text transform="translate(89,936.8) rotate(-90)" font-size="87" fill="#000">Transmittance (%)</text>
<text x="317.7" y="130.9" font-size="52" fill="#7c7c7c">-OH</text>
<text x="518.3" y="88.0" font-size="52" fill="#7c7c7c">-CH2;</text>
<text x="477.5" y="138.2" font-size="52" fill="#7c7c7c">-CH; CH3</text>
<text x="978.9" y="139.7" font-size="52" fill="#7c7c7c">C=O</text>
<text x="160.4" y="1081.0" font-size="52" fill="#7c7c7c">3345-3525</text>
<text x="466.6" y="1075.4" font-size="52" fill="#7c7c7c">3100-2700</text>
<text x="891.0" y="1082.4" font-size="52" fill="#7c7c7c">1830-1665</text>
<text x="1499" y="246.2" font-size="52.6" fill="#0e0e82">R-PPr1x 0 days</text>
<text x="1499" y="312.9" font-size="52.6" fill="#0c0ce6">R-PPr1x 30 days</text>
<text x="1499" y="379.6" font-size="52.6" fill="#08f0f0">R-PPr1x 120 days</text>
<text x="1499" y="446.3" font-size="52.6" fill="#0b7a0b">R-PPr3x 0 day</text>
<text x="1499" y="513.0" font-size="52.6" fill="#0f7878">R-PPr3x 30 days</text>
<text x="1499" y="579.7" font-size="52.6" fill="#12ee12">R-PPr3x 30 days</text>
<text x="1499" y="646.4" font-size="52.6" fill="#f2000e">R-PPr3x/3CHF 0 days</text>
<text x="1499" y="713.1" font-size="52.6" fill="#f8840e">R-PPr3x/3CHF 30 days</text>
<text x="1499" y="779.8" font-size="52.6" fill="#eca86e">R-PPr3x/3CHF 120 days</text>
<text x="1499" y="846.5" font-size="52.6" fill="#6c0c6c">R-PPr3x/5CHF 0 days</text>
<text x="1499" y="913.2" font-size="52.6" fill="#6e0cee">R-PPr3x/5CHF 30 days</text>
<text x="1499" y="979.9" font-size="52.6" fill="#f612f6">R-PPr3x/5CHF 120 days</text>
</svg></body></html>
